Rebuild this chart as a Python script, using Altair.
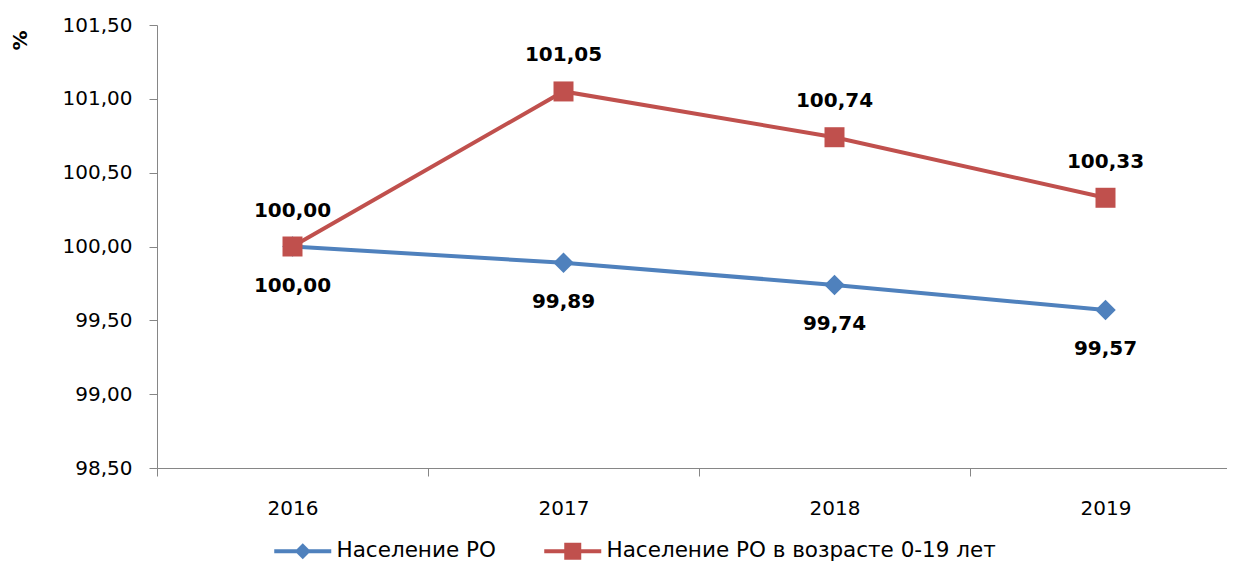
import altair as alt
import pandas as pd

years = [2016, 2017, 2018, 2019]
pop_total = [100.00, 99.89, 99.74, 99.57]
pop_young = [100.00, 101.05, 100.74, 100.33]
series_names = ["Население РО", "Население РО в возрасте 0-19 лет"]
series_colors = ["#4F81BD", "#C0504D"]
y_ticks = [98.5, 99.0, 99.5, 100.0, 100.5, 101.0, 101.5]
x_band_edges = [2015.5, 2016.5, 2017.5, 2018.5]

df = pd.DataFrame({
    "year": years * 2,
    "value": pop_total + pop_young,
    "series": [series_names[0]] * 4 + [series_names[1]] * 4,
})

fmt = "replace(format(datum.value, '.2f'), '.', ',')"

PLOT_W = 1070
BAND = 271
x = alt.X(
    "year:Q",
    scale=alt.Scale(domain=[2015.5, 2015.5 + PLOT_W / BAND], nice=False, zero=False),
    axis=alt.Axis(title=None, values=x_band_edges, labelExpr="format(datum.value + 0.5, 'd')",
                  labelOffset=BAND / 2, labelFlush=False, labelOverlap=False,
                  tickSize=8, labelPadding=22, grid=False),
)
y = alt.Y(
    "value:Q",
    scale=alt.Scale(domain=[98.5, 101.5], nice=False, zero=False),
    axis=alt.Axis(values=y_ticks, labelExpr=fmt, title="%", tickSize=8,
                  labelPadding=17, grid=False,
                  titleAngle=270, titleX=-137, titleY=15, titleAlign="center",
                  titleBaseline="middle", titleFont="DejaVu Sans",
                  titleFontSize=20, titleFontWeight="bold", titleColor="black"),
)

base = alt.Chart(df).encode(x=x, y=y)


def series_layers(name, color, shape, size, dy):
    b = base.transform_filter(alt.datum.series == name)
    line = b.mark_line(color=color, strokeWidth=4)
    pts = b.mark_point(shape=shape, filled=True, size=size, color=color,
                       opacity=1, strokeWidth=0)
    txt = b.transform_calculate(label=fmt).mark_text(
        dy=dy, font="DejaVu Sans", fontSize=20, fontWeight="bold",
        color="black", baseline="middle"
    ).encode(text="label:N")
    return line, pts, txt


l1, p1, t1 = series_layers(series_names[0], series_colors[0], "diamond", 420, 39)
l2, p2, t2 = series_layers(series_names[1], series_colors[1], "square", 400, -36)

legend_paths = [
    "M-2.85,-0.2H2.85V0.2H-2.85Z M-0.8,0L0,-0.8L0.8,0L0,0.8Z",
    "M-2.85,-0.2H2.85V0.2H-2.85Z M-0.85,-0.85H0.85V0.85H-0.85Z",
]
leg = alt.Legend(orient="none", legendX=135, legendY=515, direction="horizontal",
                 title=None, symbolSize=400, labelFont="DejaVu Sans",
                 labelFontSize=21.5, labelColor="black", labelOffset=23,
                 columnPadding=48, symbolStrokeWidth=0, labelLimit=0)
legend_layer = base.transform_filter("false").mark_point(
    filled=True, opacity=1, size=400
).encode(
    color=alt.Color("series:N", scale=alt.Scale(domain=series_names, range=series_colors), legend=leg),
    shape=alt.Shape("series:N", scale=alt.Scale(domain=series_names, range=legend_paths), legend=leg),
)

chart = alt.layer(l1, p1, l2, p2, t1, t2, legend_layer).properties(
    width=PLOT_W, height=443,
    autosize=alt.AutoSizeParams(type="none"),
    padding={"left": 149, "top": 17, "right": 0, "bottom": 95},
).configure_view(stroke=None).configure_axis(
    domainColor="#868686", tickColor="#868686", labelFont="DejaVu Sans",
    labelFontSize=20, labelColor="black",
)

chart.save("out.html", embed_options={"renderer": "svg", "actions": False})
